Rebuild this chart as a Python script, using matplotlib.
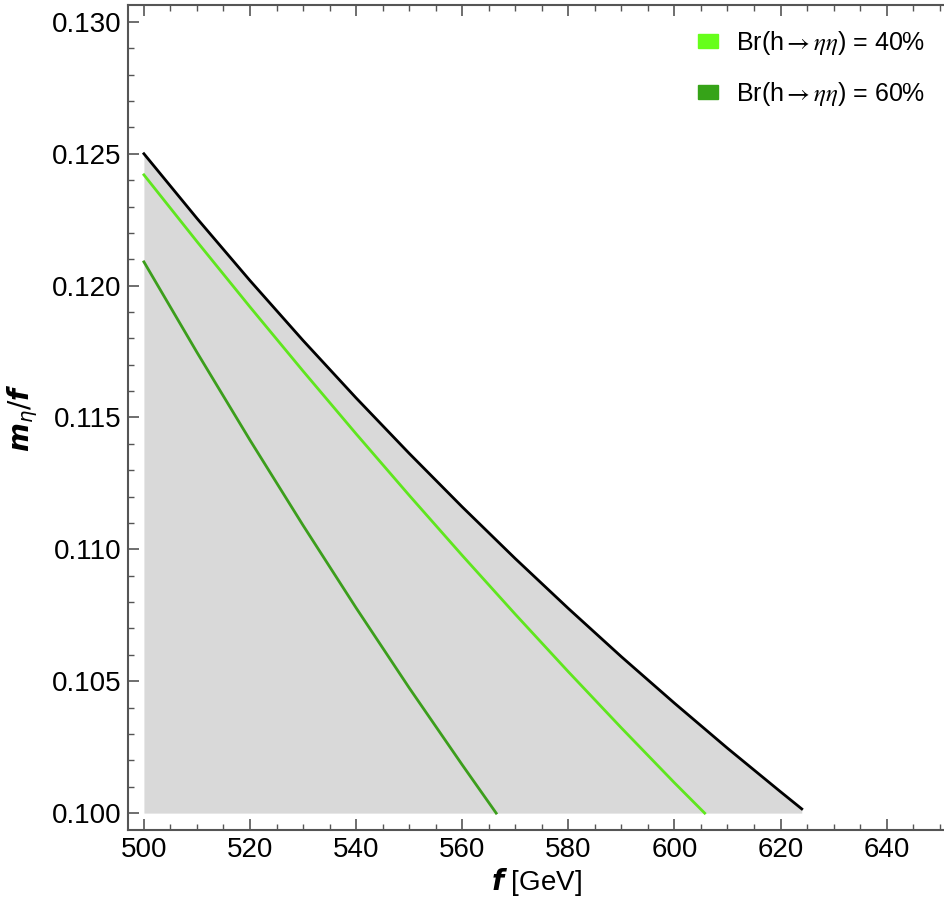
import numpy as np
import matplotlib
matplotlib.use("Agg")
import matplotlib.pyplot as plt
from matplotlib.ticker import MultipleLocator, FormatStrFormatter
from matplotlib.patches import Patch

plt.rcParams['font.family'] = ['Liberation Sans', 'DejaVu Sans']
plt.rcParams['mathtext.fontset'] = 'stix'

# Boundary: m_eta = 62.5 GeV  ->  m_eta/f = 62.5/f
bound_f = [500, 510, 520, 530, 540, 550, 560, 570, 580, 590, 600, 610, 620, 624]
bound_y = [0.12500, 0.12255, 0.12019, 0.11792, 0.11574, 0.11364, 0.11161, 0.10965,
           0.10776, 0.10593, 0.10417, 0.10246, 0.10081, 0.10016]

br40_f = [500, 510, 520, 530, 540, 550, 560, 570, 580, 590, 600, 605.7]
br40_y = [0.12420, 0.12167, 0.11919, 0.11676, 0.11438, 0.11205, 0.10977, 0.10754,
          0.10536, 0.10323, 0.10115, 0.1000]

br60_f = [500, 510, 520, 530, 540, 550, 560, 566.4]
br60_y = [0.1209, 0.11747, 0.11414, 0.11091, 0.10778, 0.10475, 0.10183, 0.1000]

labels = [r'Br(h$\rightarrow\eta\eta$) = 40%', r'Br(h$\rightarrow\eta\eta$) = 60%']
col40 = '#5fe61e'
col60 = '#3c9e1c'
legcol40 = '#66ff1a'
legcol60 = '#36a318'

fig = plt.figure(figsize=(9.45, 8.98), dpi=100)
ax = fig.add_axes([128/945, 1-830/898, (945-128)/945, (830-5)/898])

ax.fill_between(bound_f, 0.100, bound_y, color='#d9d9d9', lw=0, zorder=1)
ax.plot(bound_f, bound_y, color='black', lw=2, zorder=3)
ax.plot(br40_f, br40_y, color=col40, lw=2, zorder=2)
ax.plot(br60_f, br60_y, color=col60, lw=2, zorder=2)

ax.set_xlim(497, 651)
ax.set_ylim(0.09936, 0.13064)

ax.xaxis.set_major_locator(MultipleLocator(20))
ax.xaxis.set_minor_locator(MultipleLocator(5))
ax.yaxis.set_major_locator(MultipleLocator(0.005))
ax.yaxis.set_minor_locator(MultipleLocator(0.001))
ax.yaxis.set_major_formatter(FormatStrFormatter('%.3f'))

ax.tick_params(which='both', direction='in', top=True, right=False, color='#555555',
               labelsize=20, pad=5)
ax.tick_params(which='major', length=8, width=1.2)
ax.tick_params(which='minor', length=4, width=1.0)
for s in ['left', 'bottom', 'top']:
    ax.spines[s].set_color('#555555')
    ax.spines[s].set_linewidth(1.5)
ax.spines['right'].set_visible(False)

ax.set_xlabel(r'$\mathbfit{f}$ [GeV]', fontsize=20, labelpad=2, math_fontfamily='dejavusans')
ax.set_ylabel(r'$\mathbfit{m}_{\eta}/\mathbfit{f}$', fontsize=20, labelpad=8,
              math_fontfamily='dejavusans')

handles = [Patch(color=legcol40), Patch(color=legcol60)]
leg = ax.legend(handles, labels, loc='upper right', fontsize=18, frameon=False,
                handlelength=0.8, handleheight=0.5, handletextpad=0.7,
                labelspacing=0.9, borderaxespad=0.4, bbox_to_anchor=(1.0, 0.995))

fig.savefig('out.png', dpi=100)
